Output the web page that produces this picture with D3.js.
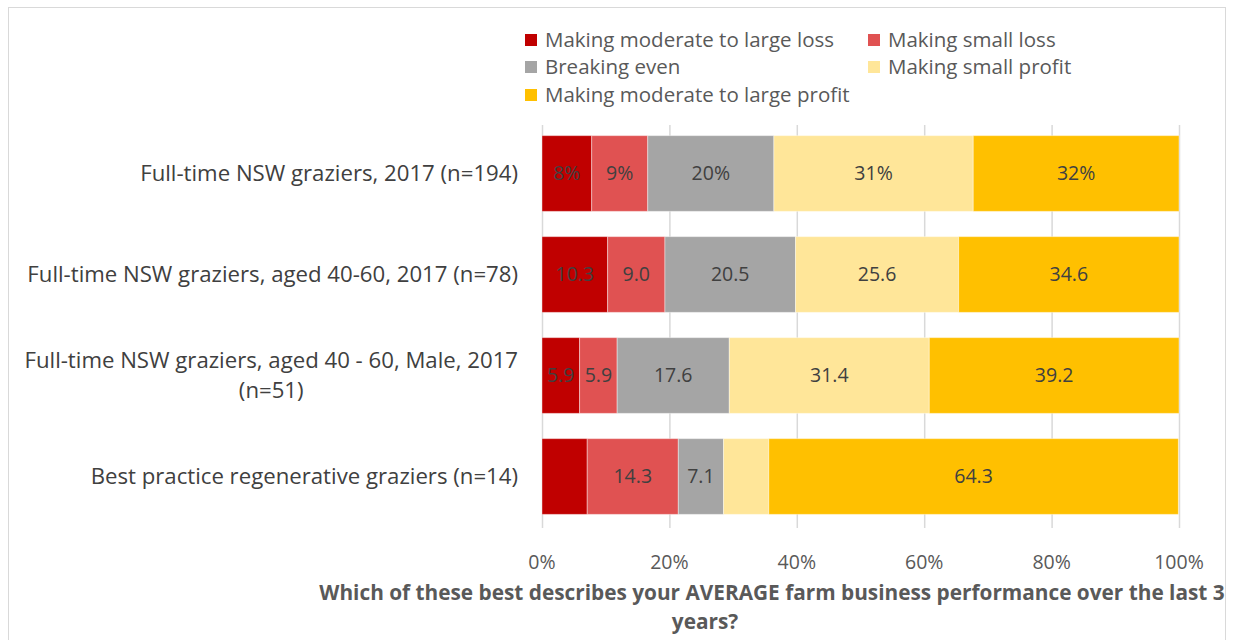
<!DOCTYPE html>
<html>
<head>
<meta charset="utf-8">
<script src="https://cdn.jsdelivr.net/npm/d3@7"></script>
<style>
  body { margin: 0; background: #fff; }
  svg { font-family: "Open Sans", sans-serif; }
</style>
</head>
<body>
<svg id="chart" width="1234" height="640"></svg>
<script>
// categories (top to bottom), each may wrap onto two lines
var categories = [
  ["Full-time NSW graziers, 2017 (n=194)"],
  ["Full-time NSW graziers, aged 40-60, 2017 (n=78)"],
  ["Full-time NSW graziers, aged 40 - 60, Male, 2017", "(n=51)"],
  ["Best practice regenerative graziers (n=14)"]
];
var seriesNames = ["Making moderate to large loss", "Making small loss", "Breaking even",
                   "Making small profit", "Making moderate to large profit"];
var seriesColors = ["#c00000", "#e05252", "#a5a5a5", "#ffe699", "#ffc000"];

// values per series, one per category
var modLoss   = [7.8, 10.3, 5.9, 7.1];
var smallLoss = [8.8, 9.0, 5.9, 14.3];
var even      = [19.8, 20.5, 17.6, 7.1];
var smallProf = [31.3, 25.6, 31.4, 7.1];
var modProf   = [32.3, 34.6, 39.2, 64.3];

// data labels as they appear (blank where none shown)
var labels = [
  ["8%", "9%", "20%", "31%", "32%"],
  ["10.3", "9.0", "20.5", "25.6", "34.6"],
  ["5.9", "5.9", "17.6", "31.4", "39.2"],
  ["", "14.3", "7.1", "", "64.3"]
];
var xTicks = [0, 20, 40, 60, 80, 100];
var titleLines = ["Which of these best describes your AVERAGE farm business performance over the last 3", "years?"];

var svg = d3.select("svg#chart");

// chart border
svg.append("rect").attr("x", 8.5).attr("y", 7.5).attr("width", 1217).attr("height", 640)
  .attr("fill", "none").attr("stroke", "#d9d9d9");

var x = d3.scaleLinear().domain([0, 100]).range([542, 1179]);
var y = d3.scaleBand().domain(d3.range(categories.length)).range([123, 527]).paddingInner(0.25).paddingOuter(0.125);

// gridlines
svg.append("g").selectAll("line").data(xTicks).enter().append("line")
  .attr("x1", function(d) { return x(d) + 0.5; }).attr("x2", function(d) { return x(d) + 0.5; })
  .attr("y1", 125).attr("y2", 528)
  .attr("stroke", "#d9d9d9").attr("stroke-width", 1.5);

// stacked table
var table = categories.map(function(c, i) {
  return { i: i, v: [modLoss[i], smallLoss[i], even[i], smallProf[i], modProf[i]] };
});
var stack = d3.stack().keys([0, 1, 2, 3, 4]).value(function(d, k) { return d.v[k]; });
var layers = stack(table);

var g = svg.append("g");
layers.forEach(function(layer, k) {
  var lg = g.append("g");
  lg.selectAll("rect").data(layer).enter().append("rect")
    .attr("x", function(d) { return x(d[0]); })
    .attr("width", function(d) { return x(d[1]) - x(d[0]); })
    .attr("y", function(d, i) { return y(i); })
    .attr("height", y.bandwidth())
    .attr("fill", seriesColors[k])
    .attr("stroke", "#fff").attr("stroke-opacity", 0.4).attr("stroke-width", 1);
  lg.selectAll("text").data(layer).enter().append("text")
    .attr("x", function(d) { return (x(d[0]) + x(d[1])) / 2; })
    .attr("y", function(d, i) { return y(i) + y.bandwidth() / 2; })
    .attr("dy", "0.35em")
    .attr("text-anchor", "middle")
    .attr("font-size", 19.5)
    .attr("fill", "#404040")
    .text(function(d, i) { return labels[i][k]; });
});

// category labels: block right-aligned at 518, lines centred within block
var cat = svg.append("g").selectAll("text").data(categories).enter().append("text")
  .attr("font-size", 22.2).attr("fill", "#404040").attr("text-anchor", "middle");
cat.each(function(lines, i) {
  var t = d3.select(this);
  var cy = y(i) + y.bandwidth() / 2;
  var lh = 30;
  var spans = lines.map(function(s, j) {
    return t.append("tspan").attr("x", 0)
      .attr("y", cy + (j - (lines.length - 1) / 2) * lh).attr("dy", "0.35em").text(s);
  });
  var w = d3.max(spans, function(s) { return s.node().getComputedTextLength(); });
  spans.forEach(function(s) { s.attr("x", 518 - w / 2); });
});

// x axis tick labels
svg.append("g").selectAll("text").data(xTicks).enter().append("text")
  .attr("x", function(d) { return x(d); }).attr("y", 562).attr("dy", "0.35em")
  .attr("text-anchor", "middle").attr("font-size", 19.5).attr("fill", "#595959")
  .text(function(d) { return d + "%"; });

// axis title
svg.append("text").attr("x", 772).attr("y", 593).attr("dy", "0.35em")
  .attr("text-anchor", "middle").attr("font-size", 20.8).attr("font-weight", "bold").attr("fill", "#595959")
  .text(titleLines[0]);
svg.append("text").attr("x", 705).attr("y", 622).attr("dy", "0.35em")
  .attr("text-anchor", "middle").attr("font-size", 20.8).attr("font-weight", "bold").attr("fill", "#595959")
  .text(titleLines[1]);

// legend
var legendPos = [[525, 40], [868, 40], [525, 67], [868, 67], [525, 95]];
var lgd = svg.append("g").selectAll("g").data(seriesNames).enter().append("g")
  .attr("transform", function(d, i) { return "translate(" + legendPos[i][0] + "," + legendPos[i][1] + ")"; });
lgd.append("rect").attr("x", 0).attr("y", -6).attr("width", 12).attr("height", 12)
  .attr("fill", function(d, i) { return seriesColors[i]; });
lgd.append("text").attr("x", 20).attr("dy", "0.35em").attr("font-size", 20.5).attr("fill", "#595959")
  .text(function(d) { return d; });
</script>
</body>
</html>
